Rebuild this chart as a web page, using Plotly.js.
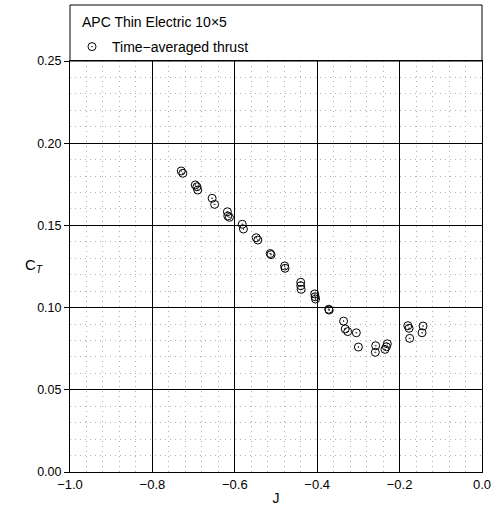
<!DOCTYPE html>
<html>
<head>
<meta charset="utf-8">
<script src="https://cdn.plot.ly/plotly-3.0.1.min.js"></script>
<style>html,body{margin:0;padding:0;background:#fff;}#chart{width:494px;height:513px;}</style>
</head>
<body>
<div id="chart"></div>
<script>
// Advance ratio J and thrust coefficient C_T (time-averaged thrust)
const J = [-0.730, -0.726, -0.696, -0.692, -0.690, -0.655, -0.649, -0.618, -0.617, -0.613,
           -0.582, -0.579, -0.548, -0.544, -0.514, -0.512, -0.479, -0.478, -0.440, -0.440,
           -0.439, -0.406, -0.405, -0.404, -0.372, -0.371, -0.336, -0.332, -0.326, -0.305,
           -0.300, -0.258, -0.259, -0.2355, -0.232, -0.2297, -0.180, -0.177, -0.1755, -0.143, -0.1455];
const CT = [0.1831, 0.1817, 0.1746, 0.1735, 0.1715, 0.1665, 0.1628, 0.1583, 0.1557, 0.1549,
            0.1507, 0.1478, 0.1425, 0.1411, 0.1329, 0.1322, 0.1253, 0.1239, 0.1154, 0.1133,
            0.1111, 0.1083, 0.1066, 0.1052, 0.0990, 0.0985, 0.0918, 0.0870, 0.0854, 0.0847,
            0.0760, 0.0768, 0.0728, 0.0746, 0.0762, 0.0780, 0.0890, 0.0874, 0.0813, 0.0888, 0.0847];
const legendTitle = "APC Thin Electric 10×5";
const seriesName = "Time\u2212averaged thrust";
const xTickVals = [-1.0, -0.8, -0.6, -0.4, -0.2, 0.0];
const xTickText = ["\u22121.0", "\u22120.8", "\u22120.6", "\u22120.4", "\u22120.2", "0.0"];
const yTickVals = [0.00, 0.05, 0.10, 0.15, 0.20, 0.25];
const yTickText = ["0.00", "0.05", "0.10", "0.15", "0.20", "0.25"];

const font = {family: "Liberation Sans, Arial, sans-serif", color: "#000"};
const plotTop = 61, plotBottom = 472, plotLeft = 70, plotRight = 482, boxTop = 5;
const plotH = plotBottom - plotTop, plotW = plotRight - plotLeft;
const bandTop = 1 + (plotTop - boxTop) / plotH;
const py = (pix) => (plotBottom - pix) / plotH;
const px = (pix) => (pix - plotLeft) / plotW;

const trace = {
  x: J, y: CT, type: "scatter", mode: "markers", name: seriesName,
  marker: {symbol: "circle-open-dot", size: 8, color: "#000", line: {width: 1, color: "#000"}},
  showlegend: true
};

const minorGrid = {showgrid: true, gridcolor: "#b0b0b0", griddash: "1px,4px", gridwidth: 1, ticks: ""};

const layout = {
  width: 494, height: 513,
  margin: {l: plotLeft, r: 494 - plotRight, t: plotTop, b: 513 - plotBottom, pad: 0},
  paper_bgcolor: "#fff", plot_bgcolor: "#fff",
  font: Object.assign({size: 12}, font),
  showlegend: true,
  legend: {
    x: px(72), y: py(31), xanchor: "left", yanchor: "top",
    bgcolor: "rgba(0,0,0,0)", borderwidth: 0,
    font: Object.assign({size: 14}, font),
    itemwidth: 30, tracegroupgap: 0
  },
  xaxis: {
    range: [-1.0, 0.0], tickmode: "array", tickvals: xTickVals, ticktext: xTickText,
    showline: true, linecolor: "#000", linewidth: 1, mirror: true,
    showgrid: true, gridcolor: "#000", gridwidth: 1, zeroline: false,
    ticks: "", tickfont: Object.assign({size: 13}, font), ticklabelstandoff: 0,
    minor: Object.assign({dtick: 0.04, tick0: -1.0}, minorGrid),
    title: {text: "J", font: Object.assign({size: 14}, font), standoff: 2}
  },
  yaxis: {
    range: [0.0, 0.25], tickmode: "array", tickvals: yTickVals, ticktext: yTickText,
    showline: true, linecolor: "#000", linewidth: 1, mirror: true,
    showgrid: true, gridcolor: "#000", gridwidth: 1, zeroline: false,
    ticks: "outside", ticklen: 5, tickcolor: "#000", ticklabelstandoff: 0,
    tickfont: Object.assign({size: 12.5}, font),
    minor: Object.assign({dtick: 0.01, tick0: 0}, minorGrid)
  },
  shapes: [{
    type: "rect", xref: "paper", yref: "paper", x0: 0, x1: 1, y0: 1, y1: bandTop,
    line: {color: "#000", width: 1}, fillcolor: "rgba(0,0,0,0)", layer: "above"
  }],
  annotations: [{
    text: legendTitle, xref: "paper", yref: "paper", x: px(80), y: py(22),
    xanchor: "left", yanchor: "middle", showarrow: false,
    font: Object.assign({size: 14}, font)
  }, {
    text: "C<sub><i>T</i></sub>", xref: "paper", yref: "paper", x: px(34), y: py(265),
    xanchor: "center", yanchor: "middle", showarrow: false,
    font: Object.assign({size: 15}, font)
  }]
};

Plotly.newPlot("chart", [trace], layout, {displayModeBar: false, staticPlot: true});
</script>
</body>
</html>
